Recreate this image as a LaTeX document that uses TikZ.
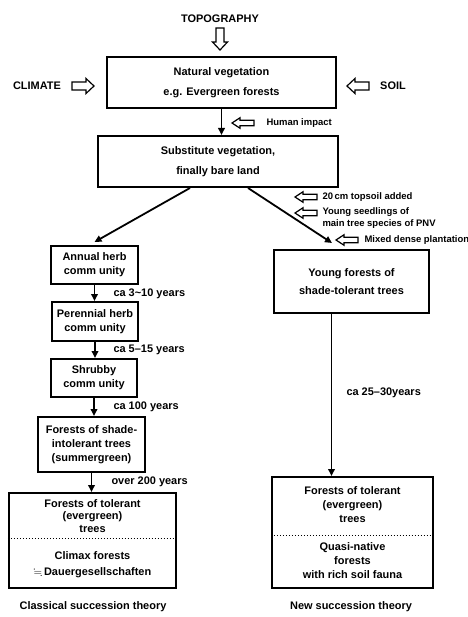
\documentclass[tikz,border=0pt]{standalone}
\usepackage{amssymb}
\usepackage{fontspec}
\setmainfont{Liberation Sans}
\usetikzlibrary{arrows.meta}

\tikzset{
  box/.style={draw, line width=2bp, align=center, inner sep=0pt},
  txt/.style={align=center, font=\fontsize{11}{14}\selectfont\bfseries},
  bigtxt/.style={align=center, font=\fontsize{11}{20}\selectfont\bfseries},
  note/.style={anchor=west, align=left, font=\fontsize{9.5}{12}\selectfont\bfseries},
  lbl/.style={anchor=west, font=\fontsize{11}{14}\selectfont\bfseries},
  flow/.style={line width=1.8bp, -{Triangle[length=7bp,width=6.5bp]}},
  pics/harrow/.style={code={
    \draw[line width=1.2bp, fill=white] (0,-4) -- (14,-4) -- (14,-7.5) -- (22,0)
      -- (14,7.5) -- (14,4) -- (0,4) -- cycle;}}
}

\begin{document}
\begin{tikzpicture}[x=1bp, y=-1bp]
\useasboundingbox (0,0) rectangle (468,617);

% factors of the natural vegetation
\node[txt] (topo) at (220,19) {TOPOGRAPHY};
\node[txt] (climate) at (37,86) {CLIMATE};
\node[txt] (soil) at (393,86) {SOIL};
\pic[rotate=-90] at (220,28) {harrow};
\pic at (72,86) {harrow};
\pic[rotate=180] at (369,86) {harrow};

\node[box, bigtxt, minimum width=229bp, minimum height=51bp] (nat) at (221.5,82.5)
  {Natural vegetation\\e.g. Evergreen forests};
\node[box, bigtxt, minimum width=240bp, minimum height=51bp] (sub) at (218,161.5)
  {Substitute vegetation,\\finally bare land};
\draw[flow] (nat.south) -- (nat.south |- sub.north);

\pic[rotate=180, yscale=0.7] at (254,123) {harrow};
\node[note] (human) at (263,123) {Human impact};

% classical succession
\node[box, txt, minimum width=87bp, minimum height=38bp] (annual) at (94.5,265)
  {Annual herb\\comm unity};
\node[box, txt, minimum width=86bp, minimum height=39bp] (perennial) at (95,321.5)
  {Perennial herb\\comm unity};
\node[box, txt, minimum width=86bp, minimum height=38bp] (shrubby) at (94,378)
  {Shrubby\\comm unity};
\node[box, txt, minimum width=107bp, minimum height=55bp] (intol) at (91.5,444.5)
  {Forests of shade-\\intolerant trees\\(summergreen)};
\node[box, minimum width=167bp, minimum height=95bp] (climL) at (92.5,540.5) {};
\node[txt, font=\fontsize{11}{12.5}\selectfont\bfseries] (climLtop) at (92.5,516)
  {Forests of tolerant\\(evergreen)\\trees};
\node[txt, font=\fontsize{11}{16}\selectfont\bfseries] (climLbot) at (92.5,565)
  {Climax forests\\$\fallingdotseq$\,Dauergesellschaften};
\coordinate (splitL) at (0,538);
\draw[dotted, line width=1bp] (climL.west |- splitL) -- (climL.east |- splitL);

\draw[flow] ([xshift=-28bp]sub.south) -- ([yshift=3bp]annual.north);
\draw[flow] (annual.south) -- (annual.south |- perennial.north);
\draw[flow] (perennial.south) -- (perennial.south |- shrubby.north);
\draw[flow] (shrubby.south) -- (shrubby.south |- intol.north);
\draw[flow] (intol.south) -- (intol.south |- climL.north);

\node[lbl] (t1) at (110,294) {ca 3\textasciitilde 10 years};
\node[lbl] (t2) at (110,350) {ca 5--15 years};
\node[lbl] (t3) at (110,407) {ca 100 years};
\node[lbl] (t4) at (108,482) {over 200 years};

\node[txt] (classic) at (93,607) {Classical succession theory};

% new succession
\pic[rotate=180, yscale=0.7] at (317,197) {harrow};
\node[note] (topsoil) at (319,197) {20\,cm topsoil added};
\pic[rotate=180, yscale=0.7] at (317,213) {harrow};
\node[note] (seedlings) at (319,218) {Young seedlings of\\main tree species of PNV};
\pic[rotate=180, yscale=0.7] at (358,240) {harrow};
\node[note] (mixed) at (361,240) {Mixed dense plantation};

\node[box, bigtxt, font=\fontsize{11}{18}\selectfont\bfseries, minimum width=155bp,
  minimum height=63bp] (young) at (351.5,281.5)
  {Young forests of\\shade-tolerant trees};
\node[box, minimum width=161bp, minimum height=111bp] (climR) at (352.5,532.5) {};
\node[txt] (climRtop) at (352.5,505)
  {Forests of tolerant\\(evergreen)\\trees};
\node[txt] (climRbot) at (352.5,561)
  {Quasi-native\\forests\\with rich soil fauna};
\coordinate (splitR) at (0,535);
\draw[dotted, line width=1bp] (climR.west |- splitR) -- (climR.east |- splitR);

\draw[flow] ([xshift=30bp]sub.south) -- ([xshift=-19.5bp, yshift=6bp]young.north);
\coordinate (rtop) at ([xshift=-20bp]young.south);
\draw[flow] (rtop) -- (rtop |- climR.north);
\node[lbl] (t5) at (343,393) {ca 25--30years};

\node[txt] (newth) at (351,607) {New succession theory};
\end{tikzpicture}
\end{document}
